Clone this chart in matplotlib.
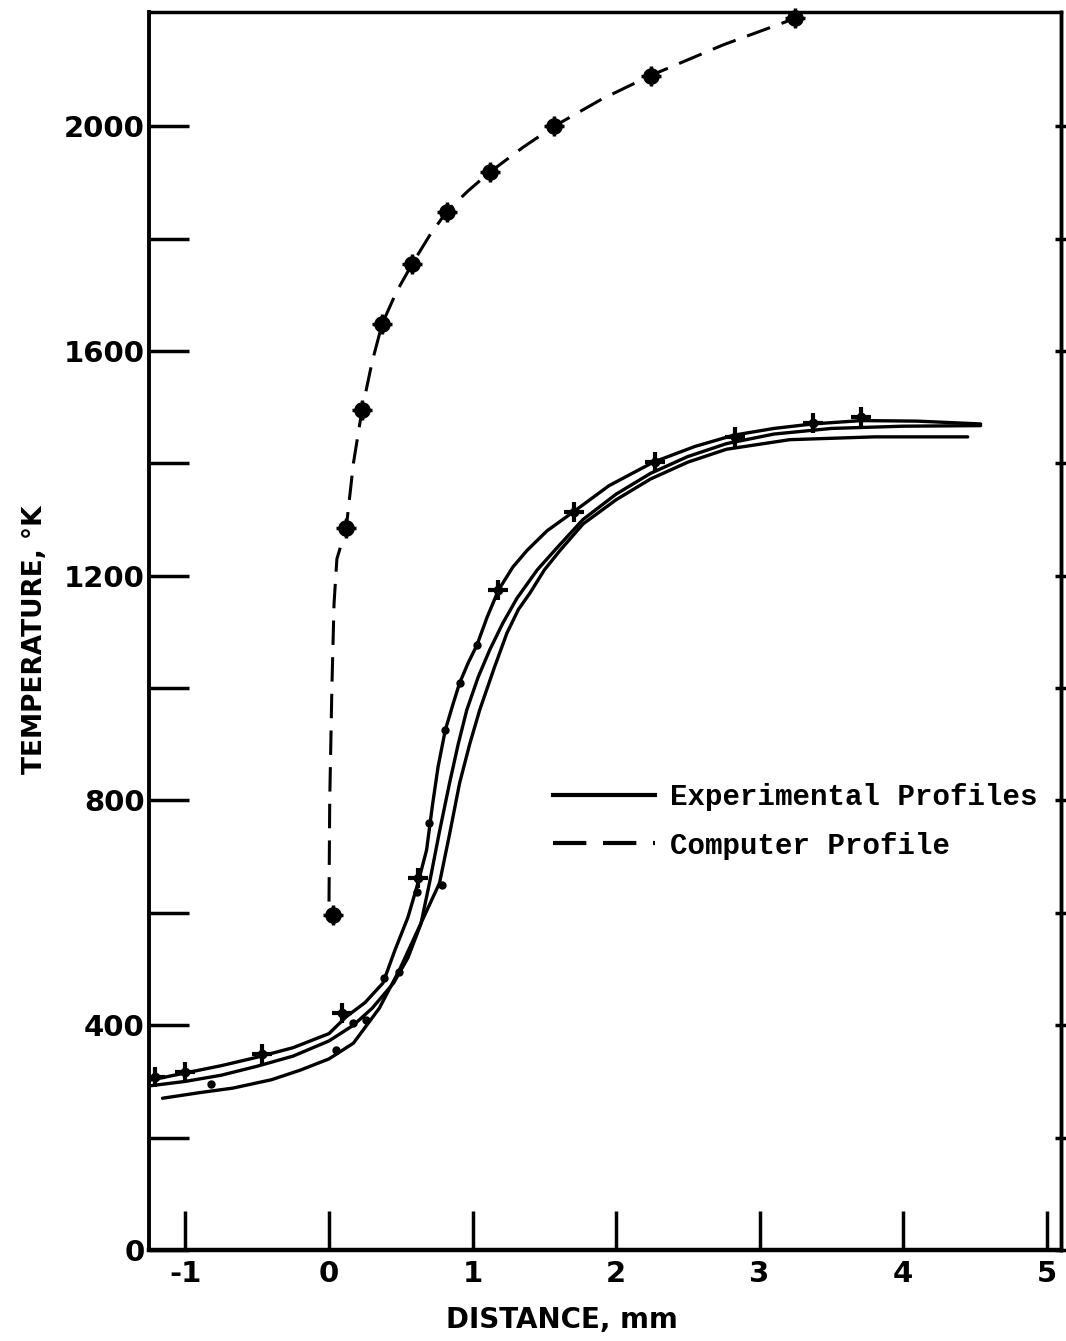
import matplotlib
matplotlib.use("Agg")
import matplotlib.pyplot as plt
from matplotlib.lines import Line2D

plt.rcParams['axes.unicode_minus'] = False

# computer profile: dashed curve and the computed points on it
comp_x = [0.0, 0.005, 0.02, 0.035, 0.055, 0.12, 0.17, 0.23, 0.30, 0.37, 0.47, 0.58,
          0.70, 0.82, 0.97, 1.12, 1.35, 1.57, 1.90, 2.24, 2.75, 3.25]
comp_y = [620, 800, 1000, 1150, 1230, 1285, 1400, 1495, 1580, 1648, 1705, 1755,
          1805, 1848, 1885, 1918, 1962, 2000, 2048, 2090, 2145, 2192]
comp_pts_x = [0.03, 0.12, 0.23, 0.37, 0.58, 0.82, 1.12, 1.57, 2.24, 3.25]
comp_pts_y = [596, 1285, 1495, 1648, 1755, 1848, 1918, 2000, 2090, 2192]

# three experimental profiles
exp1_x = [-1.25, -1.0, -0.75, -0.5, -0.25, 0.0, 0.12, 0.25, 0.376, 0.46, 0.55, 0.62,
          0.68, 0.72, 0.76, 0.81, 0.86, 0.91, 0.97, 1.03, 1.10, 1.18, 1.28, 1.38,
          1.52, 1.70, 1.95, 2.26, 2.55, 2.82, 3.10, 3.37, 3.71, 4.10, 4.54]
exp1_y = [302, 315, 328, 343, 360, 385, 415, 440, 475, 534, 592, 653,
          712, 790, 860, 925, 968, 1009, 1045, 1076, 1125, 1174, 1215, 1245,
          1280, 1313, 1360, 1402, 1430, 1450, 1462, 1470, 1476, 1475, 1470]

exp2_x = [-1.25, -1.0, -0.75, -0.5, -0.25, 0.0, 0.17, 0.30, 0.45, 0.55, 0.64, 0.70,
          0.77, 0.84, 0.90, 0.96, 1.04, 1.12, 1.21, 1.31, 1.45, 1.59, 1.77, 2.0,
          2.24, 2.5, 2.77, 3.1, 3.5, 4.0, 4.54]
exp2_y = [292, 300, 311, 327, 345, 372, 400, 430, 475, 520, 580, 653,
          745, 831, 900, 961, 1020, 1068, 1115, 1160, 1210, 1250, 1300, 1345,
          1382, 1412, 1435, 1452, 1462, 1466, 1467]

exp3_x = [-1.16, -0.9, -0.67, -0.4, -0.2, 0.0, 0.17, 0.35, 0.49, 0.62, 0.77, 0.84,
          0.91, 0.98, 1.05, 1.15, 1.24, 1.32, 1.40, 1.50, 1.61, 1.77, 2.0, 2.24,
          2.5, 2.77, 3.21, 3.8, 4.45]
exp3_y = [270, 280, 288, 303, 320, 340, 368, 430, 498, 570, 653, 740,
          831, 900, 961, 1035, 1098, 1140, 1169, 1210, 1245, 1292, 1335, 1372,
          1402, 1425, 1442, 1447, 1447]

# measured points
cross_x = [-1.21, -1.0, -0.47, 0.09, 0.62, 1.18, 1.71, 2.27, 2.83, 3.37, 3.71]
cross_y = [308, 317, 349, 421, 662, 1174, 1313, 1402, 1447, 1471, 1482]
dot_x = [-0.82, 0.05, 0.17, 0.26, 0.38, 0.49, 0.61, 0.70, 0.79, 0.81, 0.91, 1.03]
dot_y = [296, 356, 404, 409, 484, 495, 637, 760, 650, 925, 1009, 1076]

x_ticks = [-1, 0, 1, 2, 3, 4, 5]
x_tick_labels = ['-1', '0', '1', '2', '3', '4', '5']
y_ticks = list(range(0, 2001, 200))
y_tick_labels = ['0', '', '400', '', '800', '', '1200', '', '1600', '', '2000']

fig = plt.figure(figsize=(10.66, 13.41), dpi=100)
ax = fig.add_axes([0.1398, 0.0679, 0.8555, 0.9231])

dash = (0, (8, 4))
ax.plot(comp_x, comp_y, color='black', lw=2.2, linestyle=dash)
ax.plot(comp_pts_x, comp_pts_y, 'o', color='black', ms=11, clip_on=False)
ax.plot(comp_pts_x, comp_pts_y, '+', color='black', ms=14, mew=2.5, clip_on=False)

for xs, ys in [(exp1_x, exp1_y), (exp2_x, exp2_y), (exp3_x, exp3_y)]:
    ax.plot(xs, ys, color='black', lw=2.4, solid_capstyle='round')

ax.plot(cross_x, cross_y, '+', color='black', ms=14, mew=3)
ax.plot(cross_x, cross_y, 'o', color='black', ms=6)
ax.plot(dot_x, dot_y, 'o', color='black', ms=5)

ax.set_xlim(-1.254, 5.10)
ax.set_ylim(0, 2203)

ax.set_xticks(x_ticks)
ax.set_xticklabels(x_tick_labels)
ax.set_yticks(y_ticks)
ax.set_yticklabels(y_tick_labels)

tick_font = dict(family='DejaVu Sans', weight='bold', size=21)
for lab in ax.get_xticklabels() + ax.get_yticklabels():
    lab.set_fontproperties(matplotlib.font_manager.FontProperties(**tick_font))

ax.tick_params(axis='x', direction='in', length=28, width=2.5, pad=7, top=False)
ax.tick_params(axis='y', direction='in', length=29, width=2.5, pad=3, right=False)

# short ticks on the right side
sec = ax.secondary_yaxis('right')
sec.set_yticks(y_ticks)
sec.tick_params(direction='inout', length=9, width=2.5, labelright=False)
sec.spines['right'].set_linewidth(2.5)

for side, w in [('left', 2.8), ('bottom', 3.2), ('top', 2.5), ('right', 2.5)]:
    ax.spines[side].set_linewidth(w)

fig.text(35 / 1066, 1 - 640 / 1341, 'TEMPERATURE, °K', rotation=90,
         ha='center', va='center', family='DejaVu Sans', weight='bold', size=19)
fig.text(562 / 1066, 1 - 1320 / 1341, 'DISTANCE, mm',
         ha='center', va='center', family='DejaVu Sans', weight='bold', size=20)

handles = [Line2D([], [], color='black', lw=3),
           Line2D([], [], color='black', lw=3, linestyle=dash)]
ax.legend(handles, ['Experimental Profiles', 'Computer Profile'],
          loc='upper left', bbox_to_anchor=(0.443, 0.377), frameon=False,
          borderpad=0, borderaxespad=0, handlelength=3.5, handletextpad=0.5,
          labelspacing=0.7,
          prop=dict(family='Liberation Mono', weight='bold', size=21))

fig.savefig('out.png', dpi=100)
